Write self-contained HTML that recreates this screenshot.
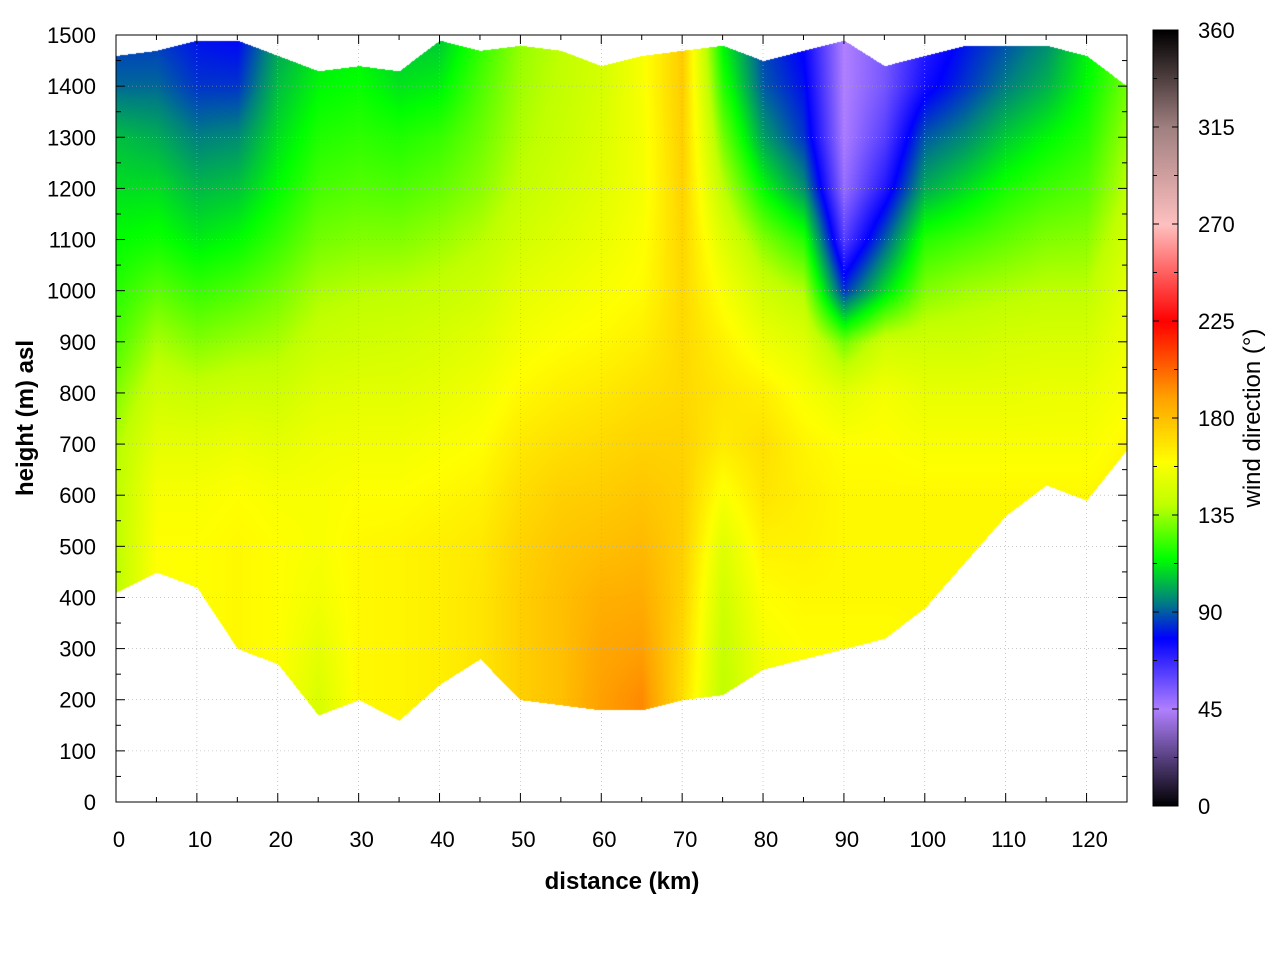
<!DOCTYPE html>
<html><head><meta charset="utf-8"><style>
body{margin:0;background:#fff;}
#wrap{position:relative;width:1280px;height:960px;font-family:"Liberation Sans",sans-serif;}
canvas,svg{position:absolute;left:0;top:0;}
</style></head><body>
<div id="wrap">
<canvas id="cv" width="1280" height="960"></canvas>
<svg id="sv" width="1280" height="960"></svg>
</div>
<script>
const distances=[0,5,10,15,20,25,30,35,40,45,50,55,60,65,70,75,80,85,90,95,100,105,110,115,120,125];
const terrain=[410,450,420,300,270,170,200,160,230,280,200,190,180,180,200,210,260,280,300,320,380,470,560,620,590,690];
const topH=[1460,1470,1490,1490,1460,1430,1440,1430,1490,1470,1480,1470,1440,1460,1470,1480,1450,1470,1490,1440,1460,1480,1480,1480,1460,1400];
const heights=[0,100,200,300,400,500,600,700,800,900,1000,1100,1200,1300,1400,1500];
const direction=[
[140,140,140,140,140,140,140,138,132,125,120,115,110,105,92,85],
[160,160,160,160,160,160,158,152,145,137,127,117,110,102,92,85],
[160,160,160,160,160,160,158,152,143,132,122,112,104,95,85,80],
[162,162,162,162,162,162,160,154,145,135,125,115,106,97,85,78],
[160,160,160,160,160,160,158,152,145,137,130,122,115,110,105,100],
[145,145,148,152,156,158,158,155,150,143,137,130,124,119,114,110],
[162,162,162,162,162,162,160,156,151,145,139,132,126,121,116,112],
[163,163,163,163,163,163,160,156,151,146,140,132,125,119,111,105],
[165,165,165,165,165,165,162,158,153,148,142,135,128,122,113,106],
[168,168,168,168,168,167,164,160,156,151,145,139,133,129,125,120],
[175,175,175,175,175,174,171,167,162,157,152,146,141,138,136,134],
[180,180,180,180,180,178,175,170,165,160,155,150,146,143,141,140],
[190,190,190,188,185,180,176,172,167,162,158,154,151,149,147,146],
[195,195,195,190,186,182,178,174,170,165,161,159,157,157,158,158],
[170,170,170,172,174,175,175,174,172,172,172,173,174,175,176,176],
[140,140,140,142,145,150,158,166,168,164,158,150,140,130,120,112],
[155,155,155,157,160,164,168,170,165,155,145,132,115,100,90,86],
[160,160,160,160,162,164,165,163,158,150,138,120,98,85,80,76],
[160,160,160,160,162,162,162,160,152,130,85,62,50,46,45,45],
[160,160,160,160,162,162,162,160,157,145,110,90,72,62,56,55],
[162,162,162,162,162,162,162,158,153,145,132,120,102,90,75,70],
[162,162,162,162,162,162,162,158,153,145,136,124,110,97,85,80],
[162,162,162,162,162,162,162,158,153,147,138,128,118,107,95,88],
[162,162,162,162,162,162,162,158,154,148,140,132,123,114,103,96],
[162,162,162,162,162,162,162,158,154,148,140,133,126,120,115,112],
[165,165,165,165,165,165,165,162,158,155,152,146,140,135,130,126]];
const xTicks=[0,10,20,30,40,50,60,70,80,90,100,110,120];
const yTicks=[0,100,200,300,400,500,600,700,800,900,1000,1100,1200,1300,1400,1500];
const cbTicks=[0,45,90,135,180,225,270,315,360];
const cmapStops=[[0,[0,0,0]],[45,[176,128,255]],[78,[0,0,255]],[95,[0,128,128]],[115,[0,255,0]],[140,[192,255,0]],[160,[255,255,0]],[190,[255,160,0]],[225,[255,0,0]],[270,[255,192,192]],[315,[160,128,128]],[360,[0,0,0]]];

const X0=116,X1=1127,Y0=802,Y1=35;
const sx=k=>X0+(k/125)*(X1-X0);
const sy=h=>Y0-(h/1500)*(Y0-Y1);
function cmap(v){for(let i=0;i<cmapStops.length-1;i++){const a=cmapStops[i],b=cmapStops[i+1];if(v<=b[0]){const t=(v-a[0])/(b[0]-a[0]);return a[1].map((c,j)=>Math.round(c+(b[1][j]-c)*Math.max(0,t)));}}return [0,0,0];}
function lerpArr(arr,k){const f=k/5;let i=Math.min(Math.floor(f),distances.length-2);const t=f-i;return arr[i]*(1-t)+arr[i+1]*t;}
const cv=document.getElementById('cv'),ctx=cv.getContext('2d');
const img=ctx.createImageData(X1-X0,Y0-Y1);
for(let py=0;py<Y0-Y1;py++){const h=(Y0-(Y1+py))/(Y0-Y1)*1500;
 for(let px=0;px<X1-X0;px++){const k=px/(X1-X0)*125;
  if(h<lerpArr(terrain,k)||h>lerpArr(topH,k))continue;
  const f=k/5;let i=Math.min(Math.floor(f),distances.length-2);const t=f-i;
  const g=h/100;let j=Math.min(Math.floor(g),heights.length-2);const u=g-j;
  const v=direction[i][j]*(1-t)*(1-u)+direction[i+1][j]*t*(1-u)+direction[i][j+1]*(1-t)*u+direction[i+1][j+1]*t*u;
  const c=cmap(v);const o=(py*(X1-X0)+px)*4;img.data[o]=c[0];img.data[o+1]=c[1];img.data[o+2]=c[2];img.data[o+3]=255;}}
ctx.putImageData(img,X0,Y1);
const CX=1153,CW=25,CT=30,CB=806;
for(let y=CT;y<CB;y++){const v=(CB-y)/(CB-CT)*360;const c=cmap(v);ctx.fillStyle=`rgb(${c[0]},${c[1]},${c[2]})`;ctx.fillRect(CX,y,CW,1);}

const sv=document.getElementById('sv');const NS='http://www.w3.org/2000/svg';
function el(tag,attrs,txt){const e=document.createElementNS(NS,tag);for(const k in attrs)e.setAttribute(k,attrs[k]);if(txt!==undefined)e.textContent=txt;sv.appendChild(e);return e;}
for(const k of xTicks){if(k>0){const g=el('line',{x1:sx(k),x2:sx(k),y1:Y0,y2:Y1,stroke:'#aaa','stroke-width':0.6,'stroke-dasharray':'1,3'});}
 const t=el('text',{x:sx(k)+3,y:847,'text-anchor':'middle','font-size':22},k);}
for(let k=0;k<=125;k+=5){const L=(k%10==0)?9:5;el('line',{x1:sx(k),x2:sx(k),y1:Y0,y2:Y0-L,stroke:'#000'});el('line',{x1:sx(k),x2:sx(k),y1:Y1,y2:Y1+L,stroke:'#000'});}
for(const h of yTicks){if(h>0&&h<1500){const g=el('line',{x1:X0,x2:X1,y1:sy(h),y2:sy(h),stroke:'#aaa','stroke-width':0.6,'stroke-dasharray':'1,3'});}
 const t=el('text',{x:96,y:sy(h)+8,'text-anchor':'end','font-size':22},h);}
for(let h=0;h<=1500;h+=50){const L=(h%100==0)?9:5;el('line',{x1:X0,x2:X0+L,y1:sy(h),y2:sy(h),stroke:'#000'});el('line',{x1:X1,x2:X1-L,y1:sy(h),y2:sy(h),stroke:'#000'});}
const fr=el('rect',{x:X0,y:Y1,width:X1-X0,height:Y0-Y1,fill:'none',stroke:'#000'});
const cb=el('rect',{x:CX,y:CT,width:CW,height:CB-CT,fill:'none',stroke:'#000'});
for(const v of cbTicks){const y=CB-v/360*(CB-CT);el('line',{x1:CX,x2:CX+6,y1:y,y2:y,stroke:'#000'});el('line',{x1:CX+CW,x2:CX+CW-6,y1:y,y2:y,stroke:'#000'});
 const t=el('text',{x:1198,y:y+8,'font-size':22},v);}
for(let v=22.5;v<360;v+=45){const y=CB-v/360*(CB-CT);el('line',{x1:CX,x2:CX+4,y1:y,y2:y,stroke:'#000'});el('line',{x1:CX+CW,x2:CX+CW-4,y1:y,y2:y,stroke:'#000'});}
const xt=el('text',{x:622,y:889,'text-anchor':'middle','font-size':24,'font-weight':'bold'},'distance (km)');
const yt=el('text',{x:0,y:0,'text-anchor':'middle','font-size':24,'font-weight':'bold',transform:'translate(33,418) rotate(-90)'},'height (m) asl');
const ct=el('text',{x:0,y:0,'text-anchor':'middle','font-size':24,transform:'translate(1260,418) rotate(-90)'},'wind direction (°)');
</script>
</body></html>
